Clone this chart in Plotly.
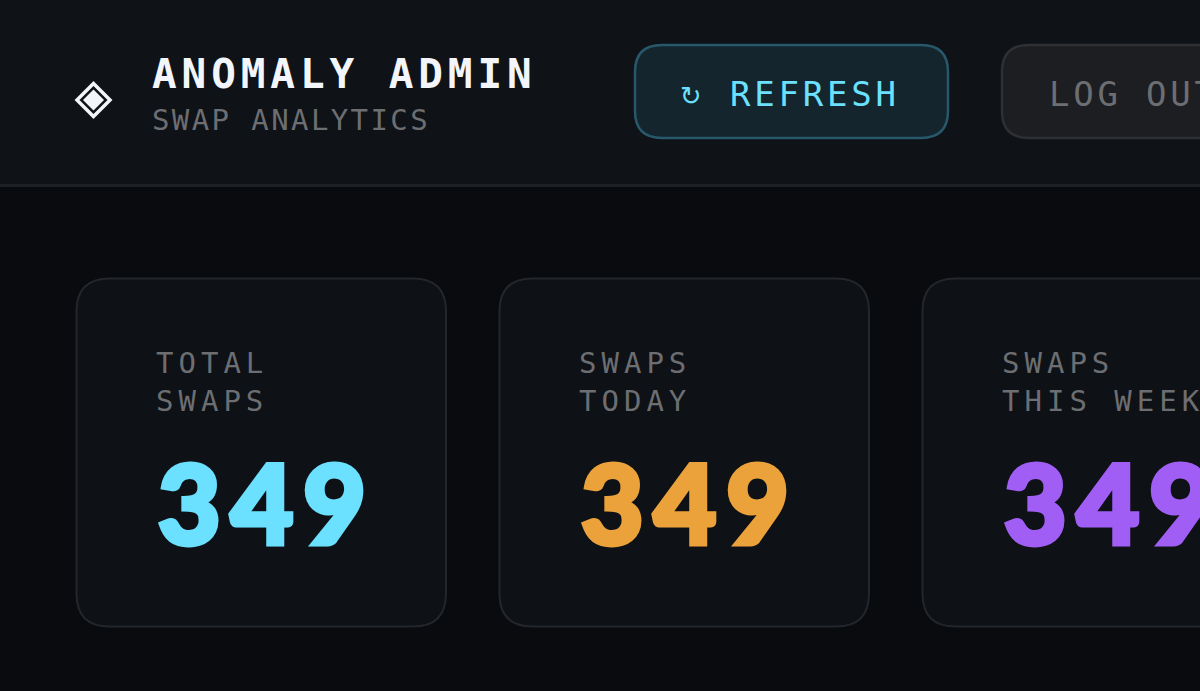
"""
Swap analytics admin header and stat cards, drawn on a pixel-sized Plotly canvas
"""

import plotly.graph_objects as go

WIDTH = 1200
HEIGHT = 691

# Dashboard content
app_title = "ANOMALY ADMIN"
app_subtitle = "SWAP ANALYTICS"
refresh_label = "REFRESH"
logout_label = "LOG OUT"
card_labels = [["TOTAL", "SWAPS"], ["SWAPS", "TODAY"], ["SWAPS", "THIS WEEK"]]
card_values = [349, 349, 349]
card_colors = ["#6be1ff", "#eba23a", "#a05ef5"]

# Palette
PAGE_BG = "#090b0f"
HEADER_BG = "#0f1217"
HEADER_LINE = "#1d2024"
CARD_BG = "#0e1116"
CARD_LINE = "#23262b"
MUTED = "#6c6e72"
MONO = "DejaVu Sans Mono"


def rounded_rect(x0, y0, x1, y1, r):
    """SVG path for a rectangle with rounded corners"""
    return (
        f"M{x0 + r},{y0} L{x1 - r},{y0} Q{x1},{y0} {x1},{y0 + r} "
        f"L{x1},{y1 - r} Q{x1},{y1} {x1 - r},{y1} "
        f"L{x0 + r},{y1} Q{x0},{y1} {x0},{y1 - r} "
        f"L{x0},{y0 + r} Q{x0},{y0} {x0 + r},{y0} Z"
    )


def diamond(cx, cy, r):
    return f"M{cx},{cy - r} L{cx + r},{cy} L{cx},{cy + r} L{cx - r},{cy} Z"


def add_box(fig, x0, y0, x1, y1, r, fill, line, width=2):
    fig.add_shape(
        type="path",
        path=rounded_rect(x0, y0, x1, y1, r),
        fillcolor=fill,
        line=dict(color=line, width=width),
        layer="below",
    )


def add_text(fig, x, y, text, size, color, spacing=0, weight=400, family=MONO, stroke=0):
    # letter-spacing and stroke go through a span style, plotly has no font option for them
    style = f"letter-spacing:{spacing}px"
    if stroke:
        style += f";stroke:{color};stroke-width:{stroke}px"
    fig.add_annotation(
        x=x,
        y=y,
        text=f'<span style="{style}">{text}</span>',
        showarrow=False,
        xanchor="left",
        yanchor="middle",
        align="left",
        borderpad=0,
        font=dict(family=family, size=size, color=color, weight=weight),
    )


fig = go.Figure()

# Header band
fig.add_shape(type="rect", x0=0, y0=0, x1=WIDTH, y1=184, fillcolor=HEADER_BG,
              line_width=0, layer="below")
fig.add_shape(type="rect", x0=0, y0=184, x1=WIDTH, y1=187, fillcolor=HEADER_LINE,
              line_width=0, layer="below")

# Logo
fig.add_shape(type="path", path=diamond(93.5, 100, 16.5), fillcolor="rgba(0,0,0,0)",
              line=dict(color="#f2f5fa", width=3.5))
fig.add_shape(type="path", path=diamond(93.5, 100, 10.5), fillcolor="#f2f5fa", line_width=0)

add_text(fig, 151, 74, app_title, 41, "#f2f5fa", spacing=4.9, weight=700)
add_text(fig, 151, 120, app_subtitle, 29, MUTED, spacing=2.4)

# Buttons
add_box(fig, 635, 45, 948, 138, 27, "#14252e", "#27596a", width=2.5)
add_text(fig, 679, 96, "↻", 26, "#6be1ff", family="DejaVu Sans")
add_text(fig, 729, 94, refresh_label, 34, "#6be1ff", spacing=3.8)

add_box(fig, 1002, 45, 1260, 138, 27, "#1c1e22", "#2e3034", width=2.5)
add_text(fig, 1047.5, 94, logout_label, 34, MUTED, spacing=3.8)

# Stat cards
card_lefts = [76.5, 499.5, 922.5]
for left, label, value, color in zip(card_lefts, card_labels, card_values, card_colors):
    add_box(fig, left, 278.5, left + 369.5, 626.5, 33, CARD_BG, CARD_LINE)
    add_text(fig, left + 78.5, 363, label[0], 29, MUTED, spacing=5)
    add_text(fig, left + 78.5, 401, label[1], 29, MUTED, spacing=5)
    add_text(fig, left + 80, 501.5, str(value), 108, color, spacing=10, weight=900,
             family="Lato", stroke=5)

fig.update_layout(
    width=WIDTH,
    height=HEIGHT,
    margin=dict(l=0, r=0, t=0, b=0),
    paper_bgcolor=PAGE_BG,
    plot_bgcolor=PAGE_BG,
    showlegend=False,
    xaxis=dict(range=[0, WIDTH], visible=False, fixedrange=True),
    yaxis=dict(range=[HEIGHT, 0], visible=False, fixedrange=True),
)

# default page body has an 8px margin, drop it so the canvas fills the window
fig.write_html(
    "out.html",
    config={"displayModeBar": False},
    post_script="document.body.style.margin = '0';",
)
